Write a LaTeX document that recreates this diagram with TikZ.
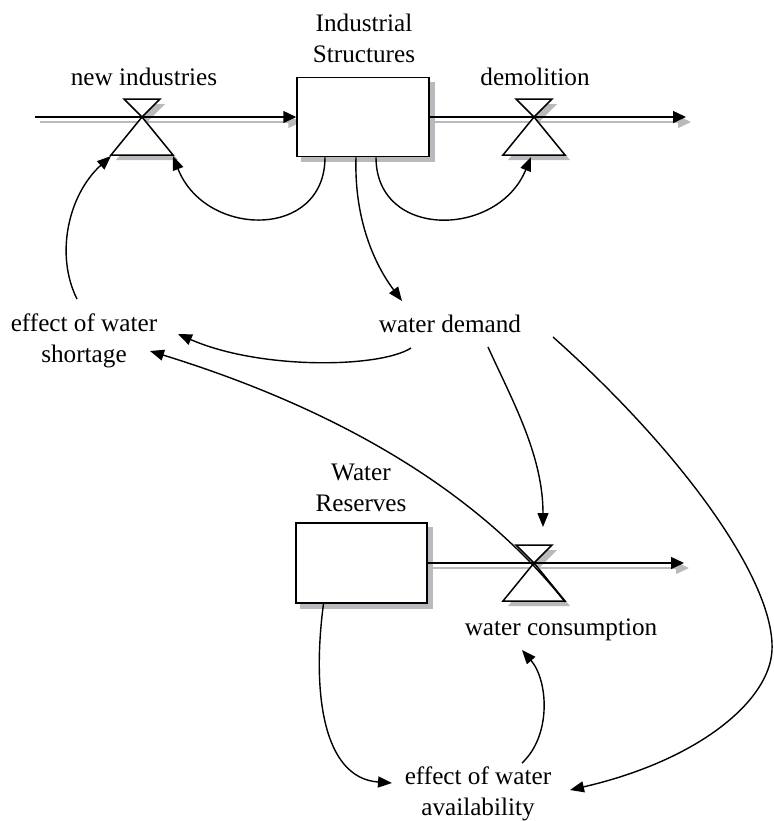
\documentclass[tikz,border=0pt]{standalone}
\usepackage{fontspec}
\setmainfont{Liberation Serif}
\usetikzlibrary{arrows.meta}
\pgfdeclarelayer{bg}
\pgfsetlayers{bg,main}
\definecolor{shadowgray}{RGB}{186,186,190}

\begin{document}
\begin{tikzpicture}[x=0.5pt,y=-0.5pt,
    lbl/.style={font=\fontsize{12.6}{15.5}\selectfont, inner sep=0pt, align=center, anchor=base},
    stock/.style={draw, fill=white, line width=0.75pt, inner sep=0pt},
    valve/.style={draw, fill=white, line width=0.75pt},
    flow/.style={line width=0.75pt, -{Triangle[length=6.5pt,width=6pt]}},
    link/.style={line width=0.7pt, -{Triangle[length=7pt,width=5.5pt]}},
    sh/.style={shift={(5,5)}}]
  \useasboundingbox (0,0) rectangle (773,821);

  % Bestaende
  \node[stock, minimum width=66pt, minimum height=39.5pt] (indstruct) at (363,117) {};
  \node[stock, minimum width=65.5pt, minimum height=40pt] (wres) at (361.5,563) {};
  \coordinate (srcL) at (35,117);
  \coordinate (sinkR) at (686,117);
  \coordinate (sinkW) at (684,563);
  \coordinate (wcons-in) at (543,527);

  \node[lbl] (indlbl) at (364,62) {Industrial\\Structures};
  \node[lbl] (newindlbl) at (144,85) {new industries};
  \node[lbl] (demollbl) at (535,85) {demolition};
  \node[lbl] (effshort) at (84,362) {effect of water\\shortage};
  \node[lbl] (wdemand) at (450,332) {water demand};
  \node[lbl] (wreslbl) at (361,511) {Water\\Reserves};
  \node[lbl] (wconslbl) at (561,635) {water consumption};
  \node[lbl] (effavail) at (478,815) {effect of water\\availability};

  % Schatten
  \begin{pgfonlayer}{bg}
    \fill[shadowgray] ([sh]indstruct.north west) rectangle ([sh]indstruct.south east);
    \fill[shadowgray] ([sh]wres.north west) rectangle ([sh]wres.south east);
    \draw[flow, shadowgray] ([sh]srcL) -- ([sh]indstruct.west);
    \draw[flow, shadowgray] ([sh]indstruct.east) -- ([sh]sinkR);
    \draw[flow, shadowgray] ([sh]wres.east) -- ([sh]sinkW);
  \end{pgfonlayer}

  % Fluesse
  \draw[flow] (srcL) -- (indstruct.west);
  \draw[flow] (indstruct.east) -- (sinkR);
  \draw[flow] (wres.east) -- (sinkW);

  % Ventile
  \foreach \n/\x/\y in {newind/142/117, demol/534/117, wcons/534/563}{
    \begin{scope}[shift={(\x,\y)}]
      \coordinate (\n) at (0,0);
      \coordinate (\n-bl) at (-31,39);
      \coordinate (\n-br) at (31,39);
      \coordinate (\n-bc) at (-3,40);
      \begin{pgfonlayer}{bg}
        \fill[shadowgray] (-13,-13) -- (23,-13) -- (5,5) -- cycle;
        \fill[shadowgray] (5,5) -- (-26,43) -- (36,43) -- cycle;
      \end{pgfonlayer}
      \draw[valve] (-18,-18) -- (18,-18) -- (0,0) -- cycle;
      \draw[valve] (0,0) -- (-31,38) -- (31,38) -- cycle;
    \end{scope}
  }

  % Wirkungen
  \draw[link] ([shift={(-38,0)}]indstruct.south) .. controls (325,240) and (205,238) .. (newind-br);
  \draw[link] ([shift={(13,0)}]indstruct.south) .. controls (376,240) and (498,238) .. (demol-bc);
  \draw[link] ([shift={(-7,0)}]indstruct.south) .. controls (354,220) and (375,265) .. ([shift={(-48,-31)}]wdemand.base);
  \draw[link] ([shift={(-7,-63)}]effshort.base) .. controls (55,255) and (68,195) .. (newind-bl);
  \draw[link] ([shift={(-39,16)}]wdemand.base) .. controls (380,368) and (260,370) .. ([shift={(94,-28)}]effshort.base);
  \draw[link] ([shift={(38,15)}]wdemand.base) .. controls (512,400) and (543,455) .. (wcons-in);
  \draw[link] ([shift={(103,5)}]wdemand.base) .. controls (680,450) and (775,580) .. (772,650)
      .. controls (770,700) and (700,760) .. ([shift={(92,-25)}]effavail.base);
  \draw[link] ([shift={(-38,0)}]wres.south) .. controls (312,690) and (322,778) .. ([shift={(-86,-32)}]effavail.base);
  \draw[link] ([shift={(44,-52)}]effavail.base) .. controls (552,735) and (548,680) .. ([shift={(-39,15)}]wconslbl.base);
  \draw[link] (wcons-br) .. controls (479,493) and (341,410) .. ([shift={(66,-11)}]effshort.base);

\end{tikzpicture}
\end{document}
